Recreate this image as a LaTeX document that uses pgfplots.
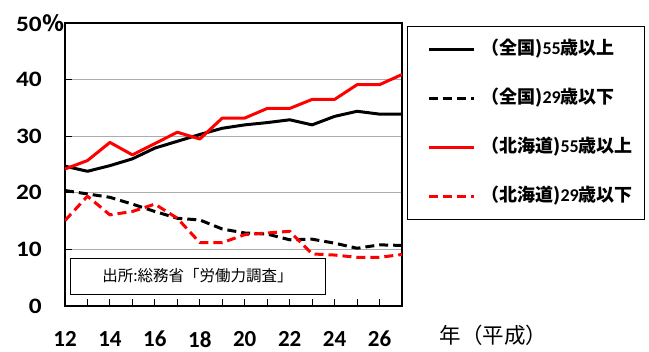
\documentclass[border=0pt]{standalone}
\usepackage{graphicx}
\usepackage{fontspec}
\setmainfont{Carlito}
\newfontfamily\jp{Noto Sans CJK JP}
\usepackage{pgfplots}
\pgfplotsset{compat=1.18}

% digits inside Japanese labels
\newcommand{\dg}[1]{{\fontspec{Carlito}\bfseries #1}}
% slightly wide figures for the value axis
\newcommand{\widefig}[1]{\scalebox{1.15}[1]{#1}}

\begin{document}
\begin{tikzpicture}
\path[use as bounding box] (0pt,0pt) rectangle (649pt,352pt);
\begin{axis}[
  at={(65pt,46pt)}, anchor=south west,
  scale only axis, width=337pt, height=283pt,
  xmin=12, xmax=27, ymin=0, ymax=50,
  xtick={12,...,27},
  xticklabels={12,,14,,16,,18,,20,,22,,24,,26,},
  ytick={0,10,20,30,40,50},
  yticklabels={\widefig{0},\widefig{10},\widefig{20},\widefig{30},\widefig{40},{\widefig{50}\rlap{\hspace{1pt}\jp\bfseries ％}}},
  tick align=inside, tick pos=left,
  major tick length=7pt,
  tick style={black, line width=1pt},
  axis line style={black, line width=1.2pt},
  ymajorgrids, grid style={gray!65, line width=1pt},
  xticklabel style={font=\fontsize{23}{23}\selectfont\bfseries, inner sep=0pt, anchor=north, yshift=-25pt},
  yticklabel style={font=\fontsize{22}{22}\selectfont\bfseries, inner sep=0pt, anchor=east, xshift=-23pt},
  legend style={at={(1,1)}, anchor=north west, xshift=5pt, yshift=-3pt,
    draw=black, line width=0.8pt, inner xsep=12pt, inner ysep=14pt,
    row sep=31pt, column sep=6pt,
    nodes={inner sep=0pt, text height=14pt, text depth=4pt,
      font=\fontsize{18}{18}\selectfont\jp\bfseries}},
  legend cell align=left,
  legend image code/.code={\path (0pt,0pt); \draw[#1] (8pt,0pt) -- (53pt,0pt);},
  every axis plot/.append style={line width=3pt, line join=round},
]
% source note
\draw[black, line width=0.8pt, fill=white] (axis cs:12.22,2.12) rectangle (axis cs:23.57,8.48);
\node[font=\fontsize{15.5}{15.5}\selectfont\jp] at (axis cs:17.9,5.3) {出所:総務省「労働力調査」};

% national, 55 and over
\addplot[black] coordinates {
 (12,24.7) (13,23.8) (14,24.8) (15,26.0) (16,27.9) (17,29.1) (18,30.3) (19,31.4)
 (20,32.0) (21,32.4) (22,32.9) (23,32.0) (24,33.5) (25,34.4) (26,33.9) (27,33.9)};
\addlegendentry{（全国)\dg{55}歳以上}
% national, 29 and under
\addplot[black, dash pattern=on 9pt off 5pt] coordinates {
 (12,20.4) (13,19.8) (14,19.2) (15,18.0) (16,16.7) (17,15.5) (18,15.2) (19,13.6)
 (20,12.9) (21,12.7) (22,11.7) (23,11.8) (24,11.1) (25,10.2) (26,10.8) (27,10.7)};
\addlegendentry{（全国)\dg{29}歳以下}
% Hokkaido, 55 and over
\addplot[red] coordinates {
 (12,24.2) (13,25.7) (14,28.9) (15,26.7) (16,28.7) (17,30.7) (18,29.5) (19,33.2)
 (20,33.2) (21,34.9) (22,34.9) (23,36.5) (24,36.5) (25,39.1) (26,39.1) (27,40.9)};
\addlegendentry{（北海道)\dg{55}歳以上}
% Hokkaido, 29 and under
\addplot[red, dash pattern=on 9pt off 5pt] coordinates {
 (12,15.1) (13,19.4) (14,16.1) (15,16.7) (16,18.0) (17,15.5) (18,11.2) (19,11.2)
 (20,12.6) (21,12.9) (22,13.2) (23,9.2) (24,9.0) (25,8.6) (26,8.6) (27,9.1)};
\addlegendentry{（北海道)\dg{29}歳以下}
\end{axis}
\node[anchor=west, font=\fontsize{21.5}{21.5}\selectfont\jp] at (436pt,17pt) {年（平成）};
\end{tikzpicture}
\end{document}
